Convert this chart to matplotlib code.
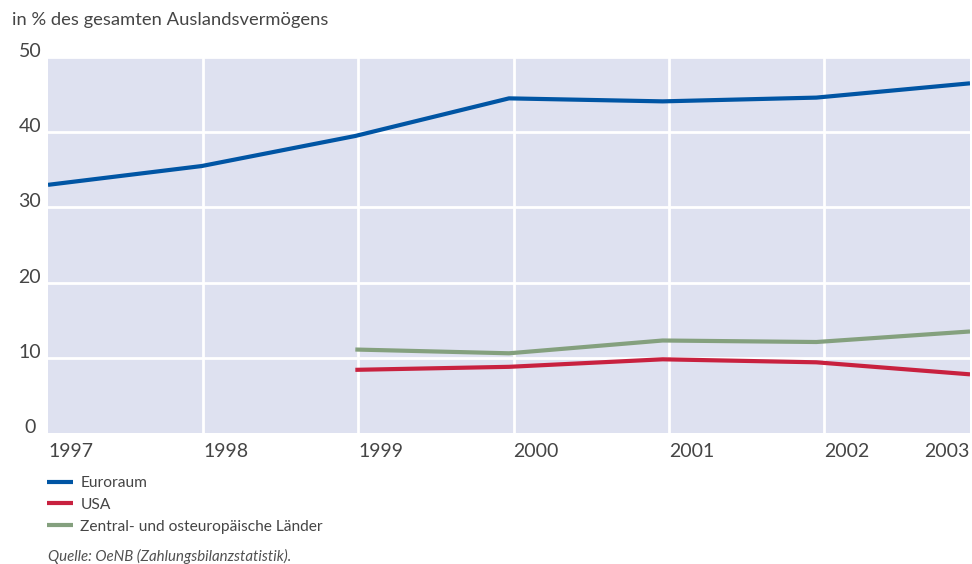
import matplotlib
matplotlib.use("Agg")
import matplotlib.pyplot as plt

years = [1997, 1998, 1999, 2000, 2001, 2002, 2003]
euroraum = [33.0, 35.5, 39.5, 44.5, 44.1, 44.6, 46.5]
usa_years = [1999, 2000, 2001, 2002, 2003]
usa = [8.4, 8.8, 9.8, 9.4, 7.8]
moel_years = [1999, 2000, 2001, 2002, 2003]
moel = [11.1, 10.6, 12.3, 12.1, 13.5]
y_ticks = [0, 10, 20, 30, 40, 50]

text_col = "#454545"
plt.rcParams["font.family"] = ["Lato", "DejaVu Sans"]

fig = plt.figure(figsize=(9.72, 5.64), dpi=100)
ax = fig.add_axes([48 / 972, 1 - 433 / 564, 922 / 972, 376 / 564])
ax.set_facecolor("#dee1f0")

ax.set_xlim(1997, 2003)
ax.set_ylim(0, 50)

# grid lines (vertical ones sit a hair right of the data points in the original)
for y in y_ticks[1:]:
    ax.axhline(y, color="white", lw=2, zorder=1)
for yr in years[1:-1]:
    ax.axvline(yr + 0.01 * (yr - 1997), color="white", lw=2, zorder=1)

ax.plot(years, euroraum, color="#0055a4", lw=3, solid_capstyle="butt", zorder=3, label="Euroraum")
ax.plot(usa_years, usa, color="#c8213f", lw=3, solid_capstyle="butt", zorder=3, label="USA")
ax.plot(moel_years, moel, color="#84a07e", lw=3, solid_capstyle="butt", zorder=3,
        label="Zentral- und osteuropäische Länder")

for s in ax.spines.values():
    s.set_visible(False)
ax.tick_params(length=0)

ax.set_yticks(y_ticks)
ax.set_yticklabels([str(v) for v in y_ticks], fontsize=14, color=text_col)
for lab in ax.get_yticklabels():
    lab.set_horizontalalignment("center")
    lab.set_verticalalignment("baseline")
ax.tick_params(axis="y", pad=13)

ax.set_xticks([])
for i, yr in enumerate(years):
    xpos = yr + 0.01 * (yr - 1997)
    ha = "left"
    if yr == years[-1]:
        xpos = yr
        ha = "right"
    ax.text(xpos, -1.3, str(yr), ha=ha, va="top", fontsize=14, color=text_col)

fig.text(12 / 972, 1 - 20 / 564, "in % des gesamten Auslandsvermögens", fontsize=13.2,
         color=text_col, va="center", ha="left")

ax.legend(loc="upper left", bbox_to_anchor=(47 / 972, 1 - 476 / 564), bbox_transform=fig.transFigure,
          frameon=False, prop={"size": 11.2}, handlelength=1.7, handletextpad=0.45, labelspacing=0.5,
          borderpad=0, borderaxespad=0, labelcolor=text_col)

fig.text(48 / 972, 1 - 556 / 564, "Quelle: OeNB (Zahlungsbilanzstatistik).", fontsize=10.8,
         style="italic", color="#505050", va="center", ha="left")

fig.savefig("out.png", dpi=100)
